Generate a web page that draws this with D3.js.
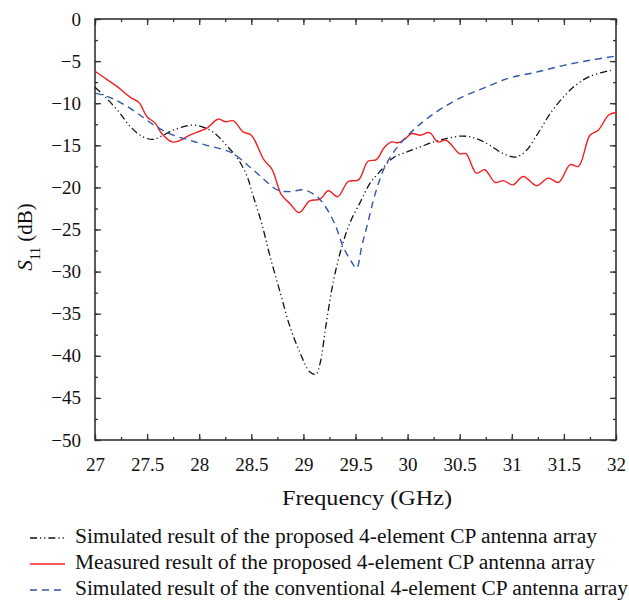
<!DOCTYPE html>
<html>
<head>
<meta charset="utf-8">
<script src="https://cdn.jsdelivr.net/npm/d3@7"></script>
</head>
<body style="margin:0">
<script>
// simulated, proposed 4-element array
const simFreq = [27.0, 27.11, 27.24, 27.34, 27.46, 27.56, 27.64, 27.75, 27.94, 28.07, 28.17, 28.26, 28.36, 28.46, 28.52, 28.6, 28.68, 28.78, 28.87, 28.97, 29.06, 29.12, 29.16, 29.22, 29.29, 29.37, 29.45, 29.54, 29.64, 29.75, 29.86, 29.99, 30.12, 30.25, 30.37, 30.53, 30.66, 30.79, 30.92, 31.04, 31.14, 31.24, 31.37, 31.5, 31.62, 31.75, 31.95];
const simS11 = [-8.1, -9.4, -11.2, -12.8, -14.0, -14.3, -13.9, -13.2, -12.6, -13.0, -13.8, -15.0, -16.4, -18.7, -21.1, -24.3, -28.2, -32.6, -36.5, -39.7, -41.9, -42.2, -40.9, -36.1, -31.0, -27.0, -24.1, -21.9, -19.5, -17.9, -16.5, -15.8, -15.2, -14.6, -14.2, -13.9, -14.2, -15.0, -16.0, -16.4, -15.6, -13.8, -11.2, -9.2, -7.8, -6.8, -6.1];

// measured, proposed 4-element array
const measFreq = [27.0, 27.14, 27.21, 27.34, 27.42, 27.5, 27.58, 27.64, 27.74, 27.8, 27.91, 28.01, 28.07, 28.18, 28.25, 28.33, 28.42, 28.5, 28.62, 28.7, 28.79, 28.87, 28.96, 29.06, 29.16, 29.24, 29.33, 29.43, 29.53, 29.62, 29.7, 29.78, 29.85, 29.91, 29.98, 30.04, 30.12, 30.21, 30.29, 30.37, 30.5, 30.56, 30.66, 30.74, 30.84, 30.92, 31.01, 31.11, 31.24, 31.35, 31.45, 31.56, 31.64, 31.75, 31.83, 31.93, 32.0];
const measS11 = [-6.2, -7.4, -8.0, -9.3, -9.9, -11.6, -12.4, -13.6, -14.6, -14.5, -13.8, -13.3, -13.0, -11.9, -12.2, -12.1, -13.4, -13.8, -16.7, -17.9, -20.9, -21.9, -23.0, -21.6, -21.4, -20.4, -21.1, -19.3, -19.1, -16.9, -16.7, -15.2, -14.6, -14.7, -14.2, -13.6, -13.8, -13.5, -14.6, -14.4, -16.0, -16.0, -18.3, -17.9, -19.4, -19.2, -19.7, -18.7, -19.8, -18.9, -19.4, -17.3, -17.5, -13.8, -13.2, -11.4, -11.1];

// simulated, conventional 4-element array
const convFreq = [27.0, 27.14, 27.27, 27.43, 27.59, 27.75, 27.91, 28.07, 28.23, 28.33, 28.46, 28.59, 28.75, 28.87, 29.0, 29.11, 29.19, 29.3, 29.38, 29.46, 29.51, 29.56, 29.61, 29.7, 29.8, 29.93, 30.09, 30.28, 30.5, 30.73, 30.98, 31.24, 31.5, 31.75, 32.0];
const convS11 = [-8.8, -9.3, -10.1, -11.4, -12.8, -13.8, -14.4, -15.0, -15.5, -16.0, -17.3, -18.7, -20.3, -20.5, -20.3, -20.9, -21.9, -24.3, -27.0, -28.8, -29.6, -27.0, -24.6, -20.3, -17.1, -14.8, -12.8, -11.0, -9.4, -8.2, -7.0, -6.3, -5.5, -4.9, -4.4];

const xTicks = [27, 27.5, 28, 28.5, 29, 29.5, 30, 30.5, 31, 31.5, 32];
const yTicks = [0, -5, -10, -15, -20, -25, -30, -35, -40, -45, -50];

const legendLabels = [
  "Simulated result of the proposed 4-element CP antenna array",
  "Measured result of the proposed 4-element CP antenna array",
  "Simulated result of the conventional 4-element CP antenna array"
];
const legendWidths = [522, 520, 553];

const w = 629, h = 601;
const margin = {left: 95, right: 13, top: 19, bottom: 161};
const serif = "Liberation Serif";

const svg = d3.select("body").append("svg")
  .attr("width", w)
  .attr("height", h)
  .attr("font-family", serif);

const x = d3.scaleLinear().domain([27, 32]).range([margin.left, w - margin.right]);
const y = d3.scaleLinear().domain([-50, 0]).range([h - margin.bottom, margin.top]);

const minorX = d3.range(27, 32.001, 0.25);
const minorY = d3.range(-50, 0.001, 2.5);

const axisColor = "#333";

function styleAxis(g) {
  g.attr("font-family", serif).attr("font-size", 19);
  g.select(".domain").remove();
  g.selectAll("line").attr("stroke", axisColor).attr("stroke-width", 1.3);
  g.selectAll("text").attr("fill", "#111");
}

// bottom
svg.append("g").attr("transform", "translate(0," + y(-50) + ")")
  .call(d3.axisBottom(x).tickValues(minorX).tickSize(-3).tickFormat(""))
  .call(styleAxis);
svg.append("g").attr("transform", "translate(0," + y(-50) + ")")
  .call(d3.axisBottom(x).tickValues(xTicks).tickSize(-6).tickPadding(18).tickFormat(d3.format("")))
  .call(styleAxis);
// top
svg.append("g").attr("transform", "translate(0," + y(0) + ")")
  .call(d3.axisTop(x).tickValues(minorX).tickSize(-3).tickFormat(""))
  .call(styleAxis);
svg.append("g").attr("transform", "translate(0," + y(0) + ")")
  .call(d3.axisTop(x).tickValues(xTicks).tickSize(-6).tickFormat(""))
  .call(styleAxis);
// left
svg.append("g").attr("transform", "translate(" + x(27) + ",0)")
  .call(d3.axisLeft(y).tickValues(minorY).tickSize(-3).tickFormat(""))
  .call(styleAxis);
svg.append("g").attr("transform", "translate(" + x(27) + ",0)")
  .call(d3.axisLeft(y).tickValues(yTicks).tickSize(-6).tickPadding(14).tickFormat(d3.format("")))
  .call(styleAxis);
// right
svg.append("g").attr("transform", "translate(" + x(32) + ",0)")
  .call(d3.axisRight(y).tickValues(minorY).tickSize(-3).tickFormat(""))
  .call(styleAxis);
svg.append("g").attr("transform", "translate(" + x(32) + ",0)")
  .call(d3.axisRight(y).tickValues(yTicks).tickSize(-6).tickFormat(""))
  .call(styleAxis);

// frame
svg.append("rect")
  .attr("x", x(27)).attr("y", y(0))
  .attr("width", x(32) - x(27)).attr("height", y(-50) - y(0))
  .attr("fill", "none").attr("stroke", axisColor).attr("stroke-width", 1.6);

const series = [
  {f: simFreq, v: simS11, color: "#111", dash: "7,3,1.2,3,1.2,3", width: 1.3},
  {f: measFreq, v: measS11, color: "#f02020", dash: null, width: 1.4},
  {f: convFreq, v: convS11, color: "#3355aa", dash: "7,5", width: 1.4}
];

const line = d3.line()
  .x(d => x(d[0]))
  .y(d => y(d[1]))
  .curve(d3.curveCatmullRom.alpha(0.5));

series.forEach(s => {
  svg.append("path")
    .datum(s.f.map((f, i) => [f, s.v[i]]))
    .attr("d", line)
    .attr("fill", "none")
    .attr("stroke", s.color)
    .attr("stroke-width", s.width)
    .attr("stroke-dasharray", s.dash);
});

// axis titles
svg.append("text")
  .attr("x", 282)
  .attr("y", 505)
  .attr("textLength", 170)
  .attr("lengthAdjust", "spacingAndGlyphs")
  .attr("font-size", 21)
  .attr("fill", "#111")
  .text("Frequency (GHz)");

const yl = svg.append("text")
  .attr("transform", "translate(32,237) rotate(-90)")
  .attr("text-anchor", "middle")
  .attr("font-size", 21)
  .attr("fill", "#111");
yl.append("tspan").attr("font-style", "italic").text("S");
yl.append("tspan").attr("baseline-shift", "sub").attr("font-size", 14).text("11");
yl.append("tspan").text(" (dB)");

// legend
const legend = svg.append("g");
legendLabels.forEach((lab, i) => {
  const ly = 538 + i * 26;
  legend.append("line")
    .attr("x1", 30).attr("x2", 65)
    .attr("y1", ly).attr("y2", ly)
    .attr("stroke", series[i].color)
    .attr("stroke-width", series[i].width)
    .attr("stroke-dasharray", series[i].dash);
  legend.append("text")
    .attr("x", 75).attr("y", ly + 5)
    .attr("textLength", legendWidths[i])
    .attr("lengthAdjust", "spacingAndGlyphs")
    .attr("font-size", 20)
    .attr("fill", "#111")
    .text(lab);
});
</script>
</body>
</html>
